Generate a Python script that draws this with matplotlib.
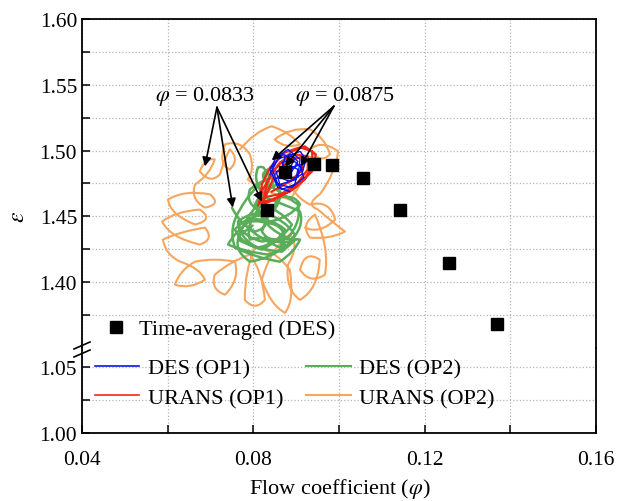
import matplotlib
matplotlib.use("Agg")
import matplotlib.pyplot as plt
from matplotlib.lines import Line2D
from matplotlib.path import Path
from matplotlib.patches import PathPatch
from matplotlib.ticker import MultipleLocator

plt.rcParams['font.family'] = ['Liberation Serif', 'DejaVu Serif']
plt.rcParams['mathtext.fontset'] = 'stix'
plt.rcParams['font.size'] = 16

# ---- data ----
# time-averaged DES operating points
avg_phi = [0.0833, 0.0875, 0.0941, 0.0983, 0.1056, 0.1142, 0.1256, 0.1369]
avg_eps = [1.4552, 1.4834, 1.4895, 1.4887, 1.4788, 1.4552, 1.4148, 1.3683]

# DES (OP1) trajectory
des1_phi = [0.0839, 0.0857, 0.0885, 0.0904, 0.0890, 0.0867, 0.0874, 0.0909, 0.0923, 0.0913,
            0.0885, 0.0862, 0.0881, 0.0904, 0.0897, 0.0867, 0.0850, 0.0874, 0.0909, 0.0918,
            0.0890, 0.0857, 0.0843, 0.0867, 0.0897, 0.0885, 0.0853, 0.0862, 0.0899, 0.0913,
            0.0890, 0.0867, 0.0876, 0.0904, 0.0909, 0.0881, 0.0853, 0.0839, 0.0857, 0.0885]
des1_eps = [1.4819, 1.4933, 1.4971, 1.4918, 1.4842, 1.4872, 1.4948, 1.4994, 1.4933, 1.4819,
            1.4765, 1.4796, 1.4895, 1.4857, 1.4743, 1.4705, 1.4780, 1.4842, 1.4895, 1.4796,
            1.4720, 1.4743, 1.4872, 1.4971, 1.4948, 1.4857, 1.4842, 1.4743, 1.4780, 1.4872,
            1.4933, 1.4910, 1.4796, 1.4796, 1.4933, 1.5009, 1.4948, 1.4857, 1.4720, 1.4689]

# URANS (OP1) trajectory
urans1_phi = [0.0815, 0.0820, 0.0839, 0.0874, 0.0909, 0.0937, 0.0939, 0.0920, 0.0885, 0.0843,
              0.0815, 0.0825, 0.0834, 0.0862, 0.0897, 0.0927, 0.0927, 0.0904, 0.0867, 0.0825,
              0.0811, 0.0822, 0.0850, 0.0890, 0.0920, 0.0946, 0.0937, 0.0899, 0.0850, 0.0820,
              0.0834, 0.0850, 0.0885, 0.0913, 0.0916, 0.0885, 0.0843]
urans1_eps = [1.4605, 1.4743, 1.4872, 1.4986, 1.5025, 1.4994, 1.4895, 1.4780, 1.4689, 1.4628,
              1.4605, 1.4644, 1.4780, 1.4910, 1.4971, 1.4956, 1.4857, 1.4758, 1.4674, 1.4644,
              1.4582, 1.4705, 1.4857, 1.4994, 1.5032, 1.4971, 1.4842, 1.4720, 1.4628, 1.4590,
              1.4689, 1.4819, 1.4933, 1.4948, 1.4857, 1.4765, 1.4689]

# DES (OP2) trajectory
des2_phi = [0.0750, 0.0769, 0.0804, 0.0839, 0.0827, 0.0792, 0.0764, 0.0769, 0.0811, 0.0857,
            0.0874, 0.0843, 0.0797, 0.0757, 0.0741, 0.0780, 0.0834, 0.0881, 0.0897, 0.0874,
            0.0820, 0.0780, 0.0792, 0.0820, 0.0850, 0.0843, 0.0811, 0.0804, 0.0839, 0.0885,
            0.0909, 0.0897, 0.0862, 0.0839, 0.0820, 0.0839, 0.0885, 0.0920, 0.0909, 0.0874,
            0.0827, 0.0797, 0.0811, 0.0834, 0.0827, 0.0787, 0.0769, 0.0741, 0.0757, 0.0804,
            0.0862, 0.0897, 0.0909, 0.0874, 0.0820, 0.0780, 0.0764, 0.0792, 0.0850, 0.0885,
            0.0862, 0.0811, 0.0787, 0.0815, 0.0769, 0.0750, 0.0792, 0.0850, 0.0874, 0.0839,
            0.0792, 0.0780, 0.0820, 0.0862, 0.0890, 0.0867, 0.0820, 0.0773, 0.0757, 0.0787,
            0.0839, 0.0874, 0.0857, 0.0820, 0.0804, 0.0827, 0.0881, 0.0913, 0.0904, 0.0862,
            0.0834, 0.0811, 0.0834, 0.0843, 0.0820, 0.0780, 0.0764, 0.0804, 0.0867, 0.0899]
des2_eps = [1.4567, 1.4438, 1.4385, 1.4415, 1.4514, 1.4537, 1.4461, 1.4324, 1.4263, 1.4293,
            1.4400, 1.4491, 1.4476, 1.4385, 1.4286, 1.4232, 1.4210, 1.4248, 1.4362, 1.4476,
            1.4537, 1.4590, 1.4705, 1.4780, 1.4796, 1.4689, 1.4628, 1.4514, 1.4461, 1.4491,
            1.4590, 1.4667, 1.4644, 1.4552, 1.4385, 1.4286, 1.4309, 1.4415, 1.4537, 1.4590,
            1.4644, 1.4765, 1.4872, 1.4895, 1.4780, 1.4667, 1.4552, 1.4415, 1.4263, 1.4187,
            1.4156, 1.4232, 1.4324, 1.4339, 1.4309, 1.4339, 1.4438, 1.4491, 1.4438, 1.4385,
            1.4263, 1.4339, 1.4415, 1.4461, 1.4362, 1.4248, 1.4156, 1.4187, 1.4286, 1.4362,
            1.4324, 1.4438, 1.4590, 1.4552, 1.4438, 1.4324, 1.4248, 1.4286, 1.4400, 1.4514,
            1.4514, 1.4628, 1.4743, 1.4705, 1.4590, 1.4400, 1.4339, 1.4461, 1.4590, 1.4689,
            1.4743, 1.4819, 1.4857, 1.4743, 1.4628, 1.4491, 1.4324, 1.4248, 1.4232, 1.4324]

# URANS (OP2) trajectory
urans2_phi = [0.0769, 0.0804, 0.0843, 0.0885, 0.0909, 0.0874, 0.0850, 0.0885, 0.0932, 0.0967,
              0.0979, 0.0955, 0.0932, 0.0960, 0.0998, 0.0991, 0.0955, 0.0920, 0.0951, 0.0991,
              0.1014, 0.0979, 0.0932, 0.0909, 0.0944, 0.0979, 0.0967, 0.0932, 0.0909, 0.0920,
              0.0955, 0.0951, 0.0909, 0.0874, 0.0881, 0.0909, 0.0885, 0.0839, 0.0820, 0.0839,
              0.0874, 0.0897, 0.0885, 0.0850, 0.0804, 0.0780, 0.0780, 0.0804, 0.0827, 0.0820,
              0.0792, 0.0745, 0.0710, 0.0699, 0.0734, 0.0769, 0.0757, 0.0710, 0.0664, 0.0629,
              0.0617, 0.0652, 0.0687, 0.0675, 0.0629, 0.0594, 0.0589, 0.0629, 0.0687, 0.0710,
              0.0675, 0.0605, 0.0587, 0.0617, 0.0675, 0.0710, 0.0664, 0.0605, 0.0601, 0.0640,
              0.0699, 0.0727, 0.0687, 0.0652, 0.0664, 0.0699, 0.0710, 0.0687, 0.0675, 0.0699,
              0.0722, 0.0734, 0.0745, 0.0769, 0.0745, 0.0717, 0.0734, 0.0769, 0.0792, 0.0804,
              0.0787, 0.0815, 0.0885, 0.0920, 0.0944, 0.0909, 0.0874, 0.0885, 0.0932, 0.0979,
              0.0991, 0.0955, 0.0920]
urans2_eps = [1.5009, 1.5147, 1.5185, 1.5139, 1.5047, 1.5009, 1.5085, 1.5177, 1.5162, 1.5101,
              1.4971, 1.4895, 1.5009, 1.5085, 1.4994, 1.4819, 1.4667, 1.4590, 1.4552, 1.4438,
              1.4385, 1.4324, 1.4339, 1.4438, 1.4514, 1.4248, 1.4057, 1.3981, 1.4095, 1.4248,
              1.4171, 1.3943, 1.3866, 1.3943, 1.4133, 1.4286, 1.4362, 1.4248, 1.4019, 1.3828,
              1.3767, 1.3866, 1.4095, 1.4248, 1.4263, 1.4095, 1.3866, 1.3775, 1.3866, 1.4095,
              1.4210, 1.4156, 1.4057, 1.3943, 1.3905, 1.4019, 1.4156, 1.4187, 1.4156, 1.4095,
              1.3981, 1.3943, 1.4019, 1.4110, 1.4156, 1.4210, 1.4324, 1.4385, 1.4415, 1.4324,
              1.4286, 1.4339, 1.4461, 1.4537, 1.4552, 1.4476, 1.4438, 1.4514, 1.4628, 1.4705,
              1.4667, 1.4590, 1.4567, 1.4628, 1.4743, 1.4819, 1.4933, 1.4948, 1.4842, 1.4743,
              1.4819, 1.4948, 1.5009, 1.4933, 1.4857, 1.4895, 1.5047, 1.5085, 1.4971, 1.4857,
              1.4780, 1.4705, 1.4628, 1.4780, 1.4933, 1.5009, 1.4857, 1.4667, 1.4590, 1.4628,
              1.4476, 1.4362, 1.4415]

# annotation anchors: (text pos, arrow origin, arrow tips)
ann_labels = [r'$\varphi$ = 0.0833', r'$\varphi$ = 0.0875']
ann_text = [(0.0686, 1.5421), (0.1014, 1.5421)]
ann_origin = [(0.0715, 1.5329), (0.0988, 1.5337)]
ann_tips = [[(0.0687, 1.4880), (0.0752, 1.4567), (0.0820, 1.4613)],
            [(0.0843, 1.4926), (0.0874, 1.4880), (0.0911, 1.4880)]]

c_blue = '#0a14e6'
c_red = '#f02818'
c_green = '#5aae5a'
c_orange = '#f6a65e'


def curve(a, xs, ys, color, lw, z):
    # smooth trace: every second point acts as a quadratic bezier control point
    verts = list(zip(xs, ys))
    codes = [Path.MOVETO] + [Path.CURVE3] * (len(verts) - 1)
    if (len(verts) - 1) % 2:
        codes[-1] = Path.LINETO
    a.add_patch(PathPatch(Path(verts, codes), fill=False, edgecolor=color, lw=lw,
                          zorder=z, joinstyle='round', capstyle='round'))


fig = plt.figure(figsize=(6.25, 5.02), dpi=100)
ax = fig.add_axes([0.1312, 0.3048, 0.8224, 0.6554])
axb = fig.add_axes([0.1312, 0.1355, 0.8224, 0.1693], sharex=ax)

for a in (ax, axb):
    curve(a, urans2_phi, urans2_eps, c_orange, 1.5, 2)
    curve(a, des2_phi, des2_eps, c_green, 1.8, 3)
    a.plot(urans1_phi, urans1_eps, color=c_red, lw=1.6, zorder=4, solid_joinstyle='round')
    a.plot(des1_phi, des1_eps, color=c_blue, lw=1.0, zorder=5, solid_joinstyle='round')
    a.plot(avg_phi, avg_eps, 's', color='k', ms=8.5, zorder=6, linestyle='none')
    a.xaxis.set_major_locator(MultipleLocator(0.04))
    a.xaxis.set_minor_locator(MultipleLocator(0.02))
    a.grid(True, which='both', color='#b4b4b4', linestyle=':', lw=0.9, zorder=0)
    a.tick_params(which='both', direction='in', length=6, width=1.1, labelsize=15.5,
                  top=False, right=False)
    for s in a.spines.values():
        s.set_linewidth(1.3)
    a.set_axisbelow(True)

ax.set_xlim(0.04, 0.16)
ax.set_ylim(1.35, 1.60)
ax.set_yticks([1.40, 1.45, 1.50, 1.55, 1.60])
ax.set_yticks([1.375, 1.425, 1.475, 1.525, 1.575], minor=True)
axb.set_ylim(1.00, 1.0646)
axb.set_yticks([1.00, 1.05])
axb.set_yticks([1.025], minor=True)
ax.spines['bottom'].set_visible(False)
axb.spines['top'].set_visible(False)
ax.tick_params(which='both', bottom=False, labelbottom=False)
ax.yaxis.set_major_formatter(plt.FormatStrFormatter('%.2f'))
axb.yaxis.set_major_formatter(plt.FormatStrFormatter('%.2f'))
axb.xaxis.set_major_formatter(plt.FormatStrFormatter('%.2f'))
axb.tick_params(axis='x', pad=12)

# break marks on the left spine
for y0, y1 in [(350, 343), (358, 351)]:
    fig.add_artist(Line2D([74 / 625, 90 / 625], [1 - y0 / 502, 1 - y1 / 502],
                          transform=fig.transFigure, color='k', lw=1.2))

# annotations
for lab, tp, org, tips in zip(ann_labels, ann_text, ann_origin, ann_tips):
    ax.text(tp[0], tp[1], lab, ha='center', va='center', fontsize=16, zorder=8)
    for t in tips:
        ax.annotate('', xy=t, xytext=org,
                    arrowprops=dict(arrowstyle='-|>', color='k', lw=1.2,
                                    mutation_scale=13, shrinkA=0, shrinkB=0),
                    zorder=8)

fig.text(0.544, 1 - 489 / 502, r'Flow coefficient ($\varphi$)', ha='center', va='center', fontsize=16)
fig.text(0.03, 1 - 217 / 502, r'$\varepsilon$', ha='center', va='center', fontsize=17, rotation=90)

# legends
h_sq = Line2D([], [], marker='s', color='k', ms=8.5, linestyle='none')
leg1 = fig.legend([h_sq], ['Time-averaged (DES)'], loc='center left',
                  bbox_to_anchor=(105 / 625, 1 - 330 / 502), frameon=False,
                  handlelength=1.0, handletextpad=0.55, borderpad=0, borderaxespad=0,
                  fontsize=16)
h_lines = [Line2D([], [], color=c_blue, lw=1.2), Line2D([], [], color=c_red, lw=1.2),
           Line2D([], [], color=c_green, lw=1.5), Line2D([], [], color=c_orange, lw=1.5)]
leg2 = fig.legend(h_lines, ['DES (OP1)', 'URANS (OP1)', 'DES (OP2)', 'URANS (OP2)'],
                  loc='center left', ncol=2, bbox_to_anchor=(95 / 625, 1 - 384 / 502),
                  frameon=False, handlelength=2.0, handletextpad=0.4, columnspacing=1.0,
                  labelspacing=0.4, borderpad=0, borderaxespad=0, fontsize=16)

fig.savefig('out.png', dpi=100)
